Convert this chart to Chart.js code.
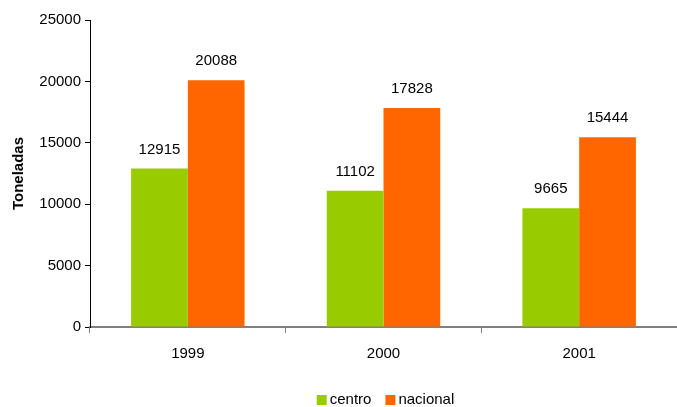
<!DOCTYPE html>
<html>
<head>
<meta charset="utf-8">
<script src="https://cdn.jsdelivr.net/npm/chart.js@4"></script>
<style>
  html, body { margin: 0; padding: 0; background: #fff; }
  #wrap { width: 677px; height: 407px; position: relative; }
</style>
</head>
<body>
<div id="wrap"><canvas id="grafico"></canvas></div>
<script>
// Dados do gráfico
const anos = ['1999', '2000', '2001'];
const centro = [12915, 11102, 9665];
const nacional = [20088, 17828, 15444];
const seriesNomes = ['centro', 'nacional'];
const cores = ['#99CC00', '#FF6600'];

const fonte = 'Arial, "Liberation Sans", sans-serif';

// rótulos de valor acima das barras
const rotulosPlugin = {
    id: 'rotulos',
    afterDatasetsDraw(chart) {
        const ctx = chart.ctx;
        ctx.save();
        ctx.font = '15px ' + fonte;
        ctx.fillStyle = '#000';
        ctx.textAlign = 'center';
        ctx.textBaseline = 'middle';
        chart.data.datasets.forEach((ds, i) => {
            chart.getDatasetMeta(i).data.forEach((bar, j) => {
                ctx.fillText(String(ds.data[j]), bar.x, bar.y - 19);
            });
        });
        ctx.restore();
    }
};

// legenda centrada sob a área do gráfico
const legendaPlugin = {
    id: 'legenda',
    afterDraw(chart) {
        const ctx = chart.ctx;
        const area = chart.chartArea;
        ctx.save();
        ctx.font = '15px ' + fonte;
        ctx.textBaseline = 'middle';
        const caixa = 10, gap = 3, espaco = 14;
        const itens = chart.data.datasets.map(ds => ({
            texto: ds.label, cor: ds.backgroundColor,
            largura: caixa + gap + ctx.measureText(ds.label).width
        }));
        const total = itens.reduce((s, it) => s + it.largura, 0) + espaco * (itens.length - 1);
        let x = (area.left + area.right) / 2 - total / 2 + 2;
        const y = 400;
        itens.forEach(it => {
            ctx.fillStyle = it.cor;
            ctx.fillRect(x, y - caixa / 2, caixa, caixa);
            ctx.fillStyle = '#000';
            ctx.textAlign = 'left';
            ctx.fillText(it.texto, x + caixa + gap, y);
            x += it.largura + espaco;
        });
        ctx.restore();
    }
};

new Chart(document.getElementById('grafico'), {
    type: 'bar',
    data: {
        labels: anos,
        datasets: [
            { label: seriesNomes[0], data: centro, backgroundColor: cores[0] },
            { label: seriesNomes[1], data: nacional, backgroundColor: cores[1] }
        ]
    },
    options: {
        responsive: true,
        maintainAspectRatio: false,
        animation: false,
        layout: { padding: { left: 0, right: 0, top: 20, bottom: 32 } },
        datasets: {
            bar: { categoryPercentage: 0.58, barPercentage: 1.0 }
        },
        scales: {
            x: {
                offset: true,
                grid: { display: true, drawOnChartArea: false, tickLength: 6, color: '#808080', offset: true },
                border: { display: true, color: '#808080', width: 2 },
                ticks: { color: '#000', font: { family: fonte, size: 15 }, padding: 12 }
            },
            y: {
                min: 0,
                max: 25000,
                ticks: {
                    stepSize: 5000, color: '#000', font: { family: fonte, size: 15 }, padding: 4,
                    callback: v => String(v)
                },
                grid: { display: true, drawOnChartArea: false, tickLength: 5, color: '#000' },
                border: { display: true, color: '#000', width: 1 },
                title: {
                    display: true,
                    text: 'Toneladas',
                    color: '#000',
                    font: { family: fonte, size: 15, weight: 'bold' },
                    padding: { top: 10, bottom: 10 }
                },
                afterFit(scale) { scale.width = 90; }
            }
        },
        plugins: {
            legend: { display: false },
            tooltip: { enabled: false }
        }
    },
    plugins: [rotulosPlugin, legendaPlugin]
});
</script>
</body>
</html>
